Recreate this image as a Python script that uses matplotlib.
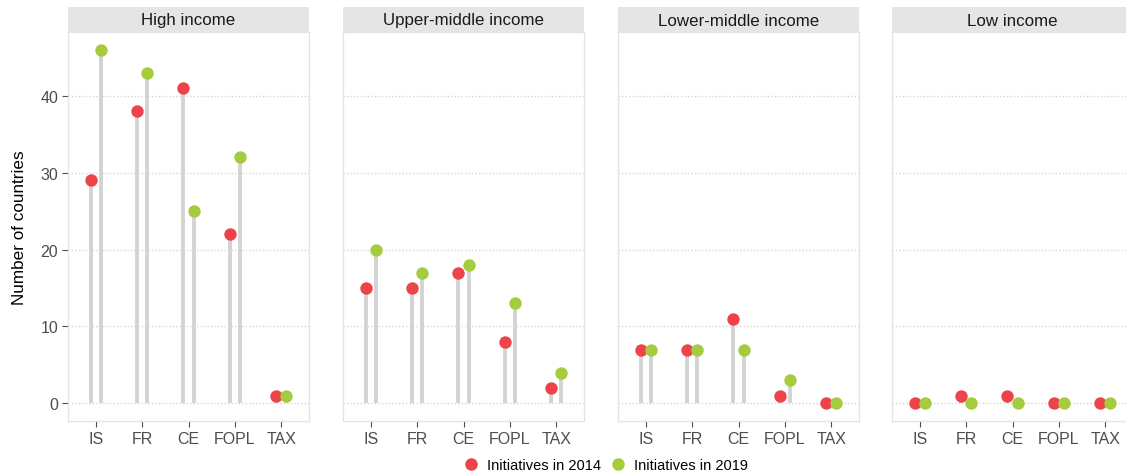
import matplotlib.pyplot as plt
from matplotlib.lines import Line2D
import numpy as np

plt.rcParams['font.family'] = ['Liberation Sans', 'DejaVu Sans']

W, H = 1126, 477

groups = ['High income', 'Upper-middle income', 'Lower-middle income', 'Low income']
measures = ['IS', 'FR', 'CE', 'FOPL', 'TAX']

y2014 = {
    'High income':         [29, 38, 41, 22, 1],
    'Upper-middle income': [15, 15, 17, 8, 2],
    'Lower-middle income': [7, 7, 11, 1, 0],
    'Low income':          [0, 1, 1, 0, 0],
}
y2019 = {
    'High income':         [46, 43, 25, 32, 1],
    'Upper-middle income': [20, 17, 18, 13, 4],
    'Lower-middle income': [7, 7, 7, 3, 0],
    'Low income':          [0, 0, 0, 0, 0],
}
yticks = [0, 10, 20, 30, 40]

RED = '#EE4449'
GREEN = '#A5CB3F'
SEG = '#D3D3D3'

fig = plt.figure(figsize=(W / 100, H / 100), dpi=100)

# panel left edges in pixels (last one runs past the image edge)
lefts = [68, 343, 618, 892]
pw = 241
top_px, bot_px, strip_top = 33, 422, 8

ymin = -2.3
ymax = 48.3
dodge = 0.11

for i, g in enumerate(groups):
    ax = fig.add_axes([lefts[i] / W, 1 - bot_px / H, pw / W, (bot_px - top_px) / H])
    x = np.arange(1, len(measures) + 1)
    a = np.array(y2014[g])
    b = np.array(y2019[g])

    ax.vlines(x - dodge, 0, a, color=SEG, lw=2.8, zorder=2)
    ax.vlines(x + dodge, 0, b, color=SEG, lw=2.8, zorder=2)
    ax.scatter(x - dodge, a, s=80, color=RED, zorder=3, linewidths=0)
    ax.scatter(x + dodge, b, s=80, color=GREEN, zorder=3, linewidths=0)

    ax.set_xlim(0.4, 5.6)
    ax.set_ylim(ymin, ymax)
    ax.set_xticks(x)
    ax.set_xticklabels(measures, fontsize=11.5, color='#4D4D4D')
    ax.set_yticks(yticks)
    for yv in yticks:
        ax.axhline(yv, color='#D6D6D6', lw=1, ls=(0, (1, 1.5)), zorder=1)
    ax.tick_params(axis='both', length=4, width=0.8, color='#4D4D4D', pad=3)
    if i == 0:
        ax.set_yticklabels([str(v) for v in yticks], fontsize=11.5, color='#4D4D4D')
        ax.set_ylabel('Number of countries', fontsize=12.3, labelpad=10)
    else:
        ax.tick_params(axis='y', left=False, labelleft=False)
    for sp in ax.spines.values():
        sp.set_color('#E3E3E3')
        sp.set_linewidth(0.9)

    # strip
    sax = fig.add_axes([lefts[i] / W, 1 - top_px / H, pw / W, (top_px - strip_top) / H])
    sax.set_facecolor('#E5E5E5')
    sax.set_xticks([])
    sax.set_yticks([])
    for sp in sax.spines.values():
        sp.set_visible(False)
    sax.text(0.5, 0.48, g, ha='center', va='center', fontsize=12.2,
             color='#1A1A1A', transform=sax.transAxes)

handles = [
    Line2D([], [], marker='o', ls='none', color=RED, markersize=9,
           markeredgewidth=0, label='Initiatives in 2014'),
    Line2D([], [], marker='o', ls='none', color=GREEN, markersize=9,
           markeredgewidth=0, label='Initiatives in 2019'),
]
fig.legend(handles=handles, loc='center', bbox_to_anchor=(605 / W, 1 - 466 / H),
           ncol=2, frameon=False, fontsize=10.5, handletextpad=0.5,
           columnspacing=0.6, handlelength=1.2)

fig.savefig('out.png', dpi=100)
